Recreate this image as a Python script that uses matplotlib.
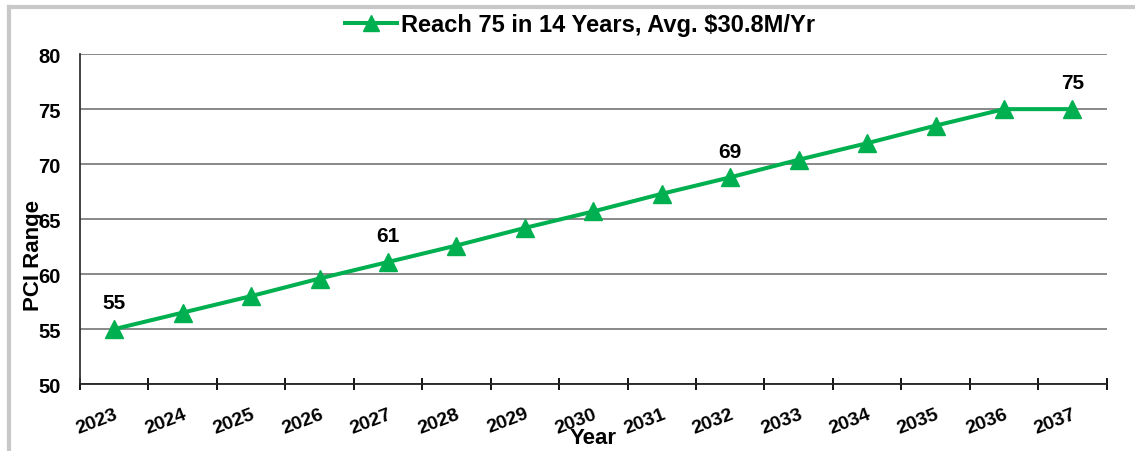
import matplotlib
matplotlib.use("Agg")
import matplotlib.pyplot as plt
from matplotlib.lines import Line2D
import numpy as np

plt.rcParams['font.family'] = ['Liberation Sans', 'DejaVu Sans']
plt.rcParams['font.weight'] = 'bold'

years = ['2023', '2024', '2025', '2026', '2027', '2028', '2029', '2030',
         '2031', '2032', '2033', '2034', '2035', '2036', '2037']
pci = [55.0, 56.5, 58.0, 59.6, 61.1, 62.6, 64.2, 65.7, 67.3, 68.8, 70.4, 71.9, 73.5, 75.0, 75.0]
labeled_idx = [0, 4, 9, 14]
series_name = 'Reach 75 in 14 Years, Avg. $30.8M/Yr'
yticks = [50, 55, 60, 65, 70, 75, 80]

green = '#00B050'

fig = plt.figure(figsize=(11.35, 4.52), dpi=100)
ax = fig.add_axes([0.0705, 0.148, 0.9045, 0.730])

x = np.arange(len(years)) + 0.5
ax.plot(x, pci, color=green, lw=2.9, marker='^', markersize=12.5,
        label=series_name, zorder=3)

for i in labeled_idx:
    ax.annotate(f"{round(pci[i])}", (x[i], pci[i]), xytext=(0, 12),
                textcoords='offset points', ha='center', va='bottom',
                fontsize=15, fontweight='bold')

ax.set_xlim(0, len(years))
ax.set_ylim(50, 80)
ax.set_yticks(yticks)
ax.yaxis.grid(True, color='#7f7f7f', lw=1.3)
ax.set_axisbelow(True)
ax.tick_params(axis='y', length=0, labelsize=14.5, pad=14)
for lbl in ax.get_yticklabels():
    lbl.set_fontweight('bold')

ax.set_xticks(np.arange(len(years) + 1))
ax.set_xticklabels([])
ax.tick_params(axis='x', which='major', direction='inout', length=8, width=1.3)
ax.set_xticks(x, minor=True)
ax.set_xticklabels(years, minor=True, rotation=21, ha='right',
                   rotation_mode='anchor', fontsize=14, fontweight='bold')
ax.tick_params(axis='x', which='minor', length=0, pad=15)

for s in ['top', 'right']:
    ax.spines[s].set_visible(False)
ax.spines['left'].set_color('#333333')
ax.spines['left'].set_linewidth(1.3)
ax.spines['bottom'].set_color('#222222')
ax.spines['bottom'].set_linewidth(1.3)

ax.set_ylabel('PCI Range', fontsize=16, fontweight='bold')
ax.yaxis.set_label_coords(-0.035, 0.394)
ax.set_xlabel('Year', fontsize=16, fontweight='bold')
ax.xaxis.set_label_coords(0.5, -0.13)

leg = ax.legend(loc='center', bbox_to_anchor=(0.487, 1.09), frameon=False,
                handlelength=2.2, handletextpad=0.15, markerscale=0.9,
                prop={'weight': 'bold', 'size': 17})

fig.add_artist(Line2D([0.0075, 1.0], [0.982, 0.982], color='#c8c8c8', lw=3,
                      transform=fig.transFigure))
fig.add_artist(Line2D([0.0075, 0.0075], [0.0, 0.982], color='#c8c8c8', lw=3,
                      transform=fig.transFigure))

fig.savefig('out.png', dpi=100)
